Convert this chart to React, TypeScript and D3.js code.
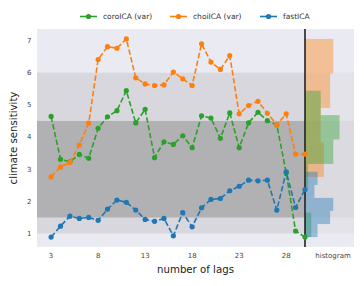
import React from 'react';
import * as d3 from 'd3';

const lags = d3.range(3, 31);

const coroICA = [4.64, 3.31, 3.23, 3.46, 3.34, 4.27, 4.63, 4.82, 5.44, 4.44, 4.86, 3.36, 3.85, 3.77,
  4.04, 3.67, 4.66, 4.59, 3.96, 4.75, 3.67, 4.44, 4.77, 4.51, 4.38, 2.89, 1.08, 0.89];
const choiICA = [2.76, 3.07, 3.21, 3.75, 4.43, 6.41, 6.81, 6.76, 7.05, 5.84, 5.65, 5.60, 5.62, 6.02,
  5.81, 5.60, 6.90, 6.33, 6.10, 6.53, 4.72, 4.98, 5.11, 4.74, 4.38, 4.72, 3.47, 3.47];
const fastICA = [0.89, 1.23, 1.54, 1.47, 1.50, 1.41, 1.76, 2.04, 1.97, 1.73, 1.44, 1.38, 1.47, 0.93,
  1.65, 1.21, 1.80, 2.06, 2.09, 2.33, 2.47, 2.66, 2.64, 2.66, 1.73, 2.92, 1.81, 2.37];

const seriesNames = ['coroICA (var)', 'choiICA (var)', 'fastICA'];
const seriesColors = ['#2ca02c', '#ff7f0e', '#1f77b4'];
const seriesBins = [6, 4, 5];
const seriesData = [coroICA, choiICA, fastICA];

const xTicks = [3, 8, 13, 18, 23, 28];
const yTicks = [1, 2, 3, 4, 5, 6, 7];
// IPCC ranges: very likely / likely
const wideRange = [1, 6];
const likelyRange = [1.5, 4.5];

const W = 364;
const H = 286;
const left = 37;
const split = 305;
const right = 354;
const top = 29;
const bottom = 247;
const font = 'DejaVu Sans, sans-serif';

function binCounts(values: number[], n: number) {
  const [lo, hi] = d3.extent(values) as [number, number];
  const w = (hi - lo) / n;
  const out = d3.range(n).map(i => ({ x0: lo + i * w, x1: lo + (i + 1) * w, count: 0 }));
  values.forEach(v => {
    const i = Math.min(n - 1, Math.floor((v - lo) / w));
    out[i].count += 1;
  });
  return out;
}

const App: React.FC = () => {
  const all = seriesData.flat();
  const [mn, mx] = d3.extent(all) as [number, number];
  const pad = (mx - mn) * 0.05;

  const x = d3.scaleLinear().domain([1.5, 30]).range([left, split]);
  const y = d3.scaleLinear().domain([mn - pad, mx + pad]).range([bottom, top]);
  const hx = d3.scaleLinear().domain([0, 15.6]).range([split, right]);

  const line = d3.line<number>()
    .x((d, i) => x(lags[i]))
    .y(d => y(d));

  const band = (r: number[], x0: number, x1: number, fill: string, key: string) => (
    <rect key={key} x={x0} width={x1 - x0} y={y(r[1])} height={y(r[0]) - y(r[1])} fill={fill} />
  );

  const legendX = [80, 170, 260];
  const histOrder = [1, 0, 2];

  return (
    <svg width={W} height={H} style={{ position: 'absolute', left: 0, top: 0 }} fontFamily={font}>
      <rect width={W} height={H} fill="#fff" />
      <rect x={left} y={top} width={right - left} height={bottom - top} fill="#eaeaf2" />

      {band(wideRange, left, split, '#d7d7dd', 'b1')}
      {band(likelyRange, left, split, '#b1b1b3', 'b2')}
      {band(wideRange, split, right, '#e3e3e9', 'b3')}
      {band(likelyRange, split, right, '#dadae0', 'b4')}

      {histOrder.map(si => (
        <g key={'h' + si} fill={seriesColors[si]} fillOpacity={0.4}>
          {binCounts(seriesData[si], seriesBins[si]).map((b, j) => (
            <rect key={j} x={hx(0)} width={hx(b.count) - hx(0)} y={y(b.x1)} height={y(b.x0) - y(b.x1)} />
          ))}
        </g>
      ))}

      <line x1={split} x2={split} y1={top} y2={bottom} stroke="#222" strokeWidth={1.6} />

      {seriesData.map((s, si) => (
        <g key={'s' + si}>
          <path d={line(s) || ''} fill="none" stroke={seriesColors[si]} strokeWidth={1.6} strokeDasharray="5.5,2.4" />
          {s.map((v, i) => (
            <circle key={i} cx={x(lags[i])} cy={y(v)} r={2.6} fill={seriesColors[si]} />
          ))}
        </g>
      ))}

      {yTicks.map(t => (
        <text key={'y' + t} x={31.5} y={y(t)} dy="0.35em" textAnchor="end" fontSize={7} fill="#444">{t}</text>
      ))}
      {xTicks.map(t => (
        <text key={'x' + t} x={x(t)} y={257.5} textAnchor="middle" fontSize={7} fill="#444">{t}</text>
      ))}
      <text x={333} y={257.5} textAnchor="middle" fontSize={7} fill="#444">histogram</text>

      <text x={(left + right) / 2} y={273} textAnchor="middle" fontSize={10.2} fill="#222">number of lags</text>
      <text transform={`translate(17,${(top + bottom) / 2}) rotate(-90)`} textAnchor="middle" fontSize={10.2} fill="#222">climate sensitivity</text>

      {seriesNames.map((n, i) => (
        <g key={'l' + i} transform={`translate(${legendX[i]},16.5)`}>
          <line x1={0} x2={17} stroke={seriesColors[i]} strokeWidth={1.6} />
          <circle cx={8.5} r={2.6} fill={seriesColors[i]} />
          <text x={23} dy="0.35em" fontSize={7.5} fill="#333">{n}</text>
        </g>
      ))}
    </svg>
  );
};

export default App;
